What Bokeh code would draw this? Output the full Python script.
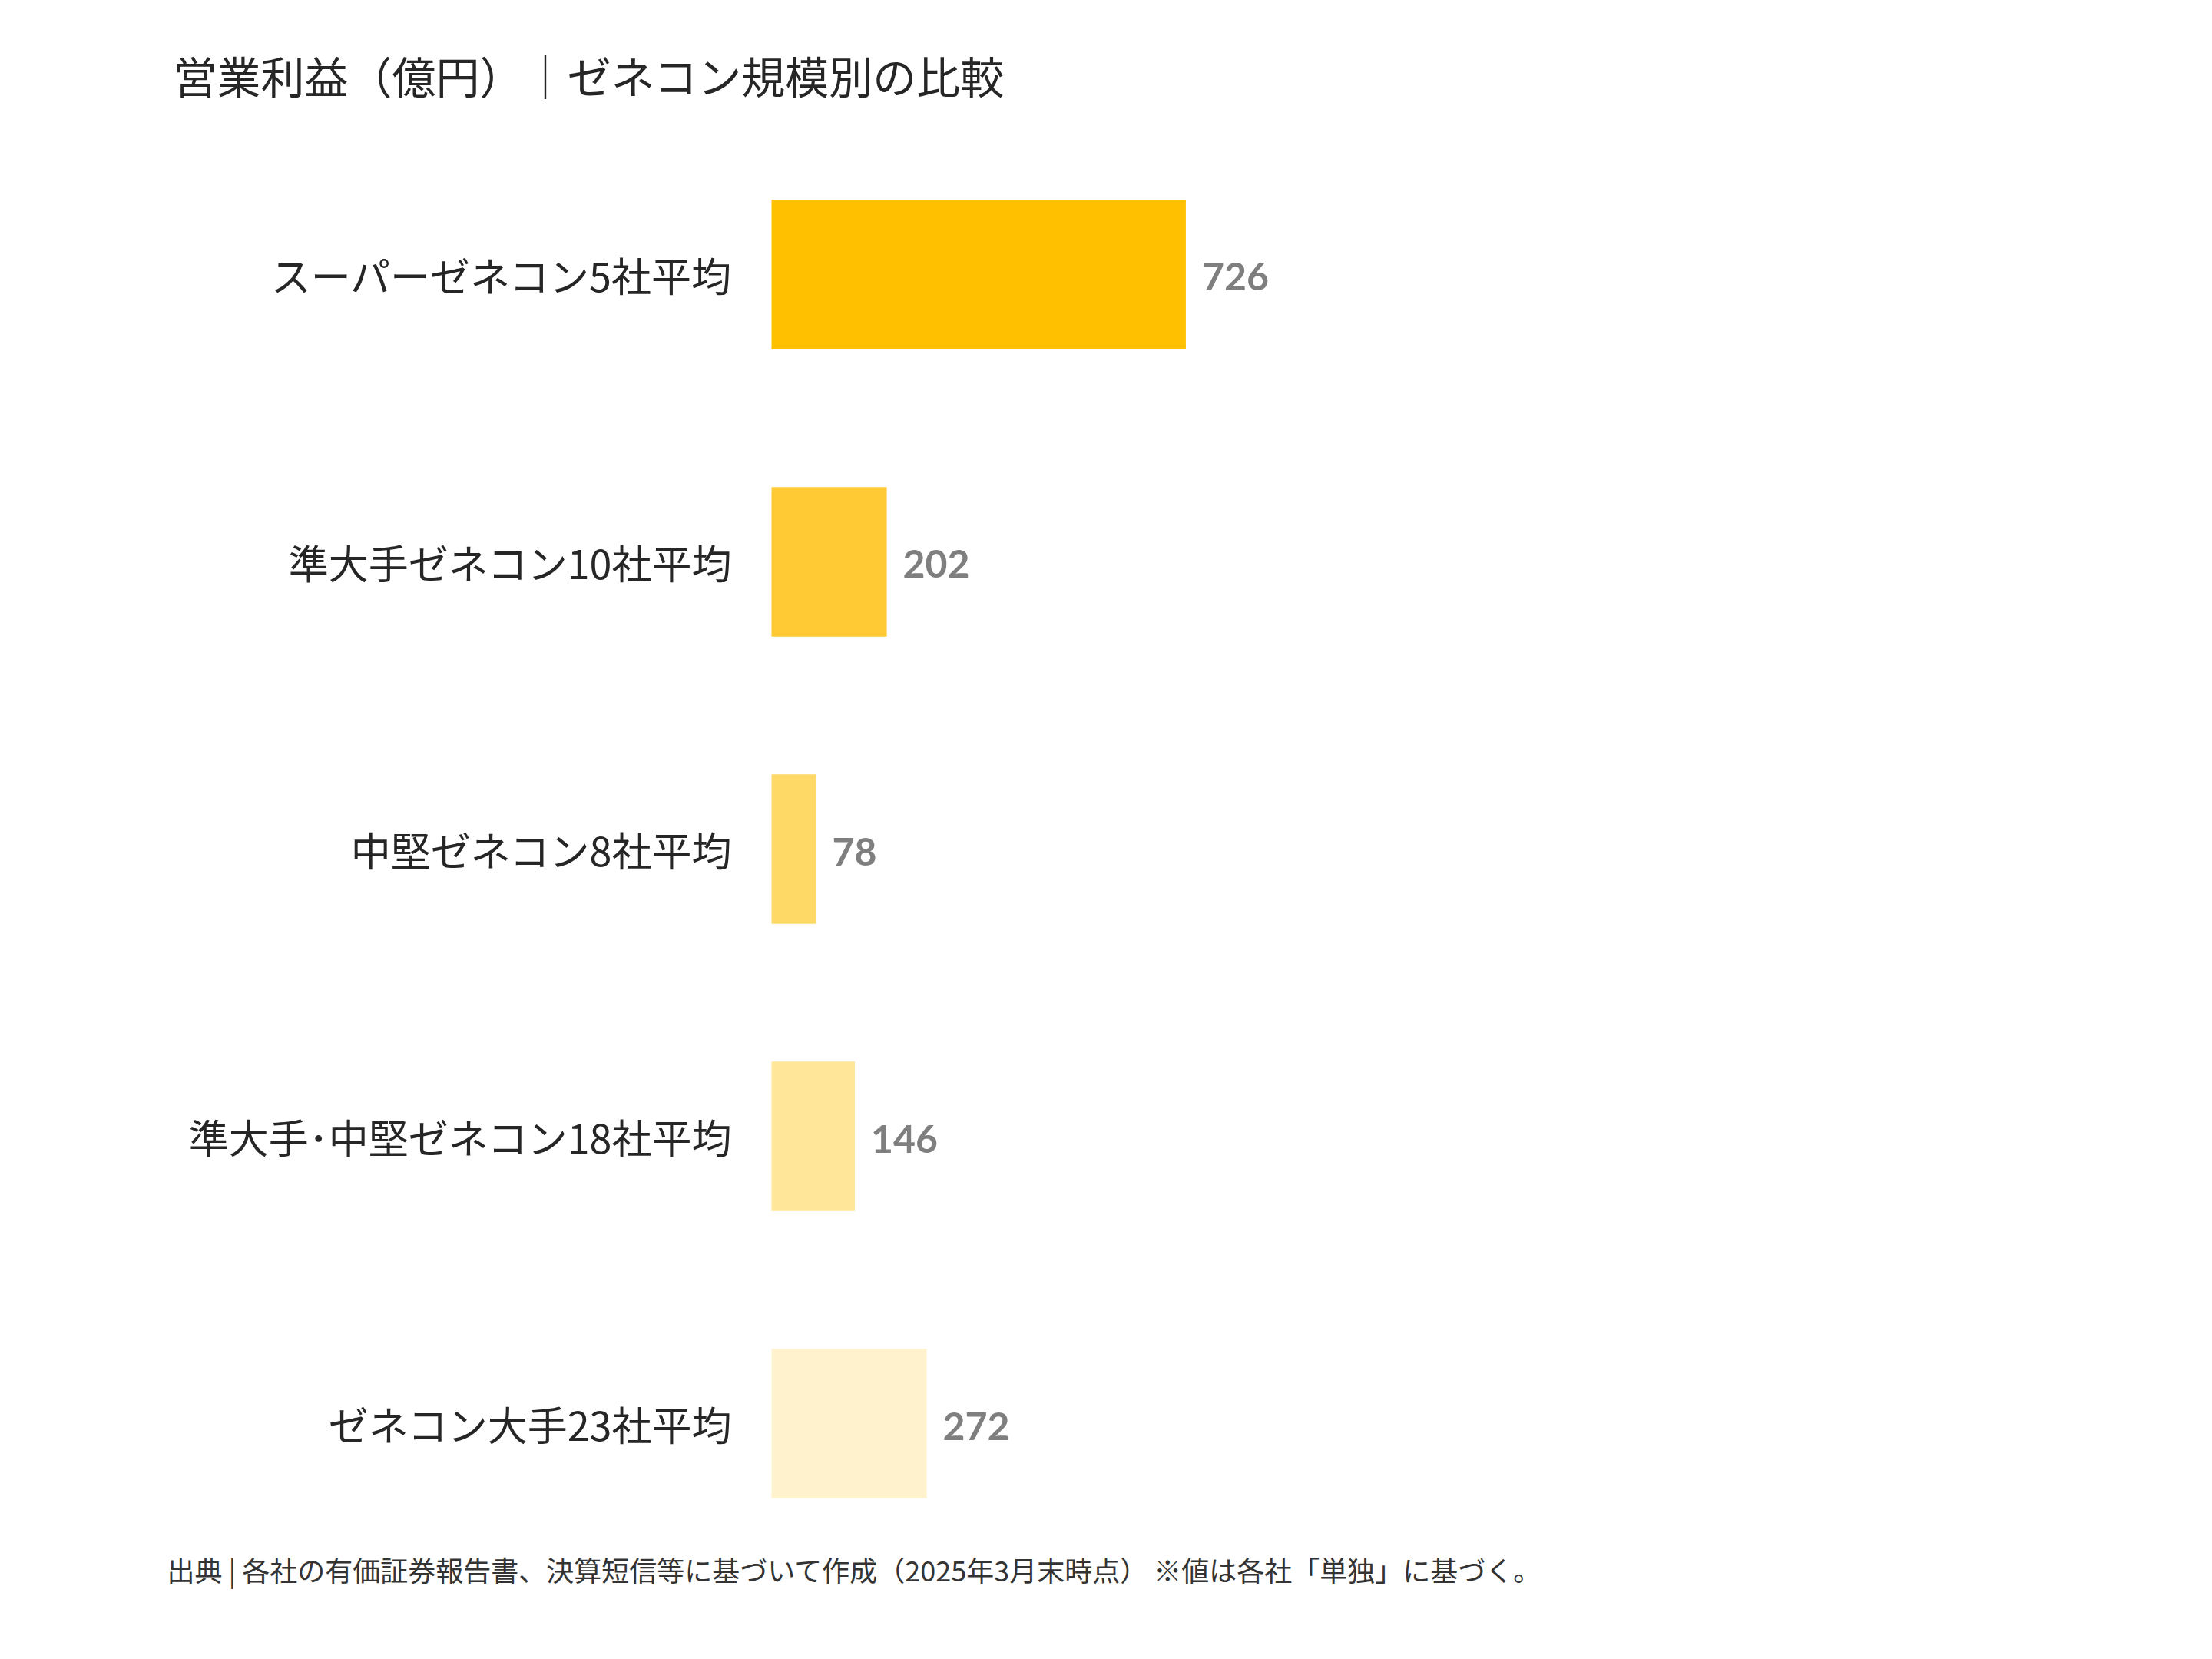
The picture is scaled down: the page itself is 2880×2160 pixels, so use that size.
from bokeh.plotting import figure
from bokeh.models import Range1d, Label, ColumnDataSource
from bokeh.core.properties import value
from bokeh.embed import file_html
from bokeh.resources import INLINE

categories = [
    "スーパーゼネコン5社平均",
    "準大手ゼネコン10社平均",
    "中堅ゼネコン8社平均",
    "準大手･中堅ゼネコン18社平均",
    "ゼネコン大手23社平均",
]
profits = [726, 202, 78, 146, 272]
bar_colors = ["#FFC000", "#FFCA33", "#FFD966", "#FFE699", "#FFF2CC"]
value_labels = [str(v) for v in profits]
positions = list(range(len(categories)))  # row index, top to bottom

title_text = "営業利益（億円）｜ゼネコン規模別の比較"
note_text = "出典 | 各社の有価証券報告書、決算短信等に基づいて作成（2025年3月末時点） ※値は各社「単独」に基づく。"

JP = "Noto Sans CJK JP"
W, H = 2864, 2144

src = ColumnDataSource(dict(pos=positions, cat=categories, val=profits,
                            color=bar_colors, lab=value_labels))

p = figure(
    width=W, height=H,
    x_range=Range1d(-1351.3, 2503.4),
    y_range=Range1d(4.778, -0.9545),
    x_axis_location=None, y_axis_location=None,
    min_border=0, min_border_left=0, min_border_right=0,
    min_border_top=0, min_border_bottom=0,
    output_backend="svg", toolbar_location=None,
    background_fill_color="white", border_fill_color="white",
)
p.outline_line_color = None
p.xgrid.visible = False
p.ygrid.visible = False

p.hbar(y="pos", right="val", left=0, height=0.52, source=src,
       fill_color="color", line_color=None)

p.text(x=0, y="pos", text="cat", source=src, x_offset=-51,
       text_font=value(JP), text_font_size="52px", text_color="#262626",
       text_baseline="middle", text_align="right")

p.text(x="val", y="pos", text="lab", source=src, x_offset=21, y_offset=3,
       text_font=value("Lato"), text_font_style="bold", text_font_size="50px",
       text_color="#7F7F7F", text_baseline="middle", text_align="left")

title = Label(x=225, y=H - 96, x_units="screen", y_units="screen", text=title_text,
              text_font=JP, text_font_size="57px", text_color="#262626",
              text_baseline="middle", text_align="left")
p.add_layout(title)

note = Label(x=217, y=H - 2042, x_units="screen", y_units="screen", text=note_text,
             text_font=JP, text_font_size="36px", text_color="#333333",
             text_baseline="middle", text_align="left")
p.add_layout(note)

open("out.html", "w").write(file_html(p, INLINE))
